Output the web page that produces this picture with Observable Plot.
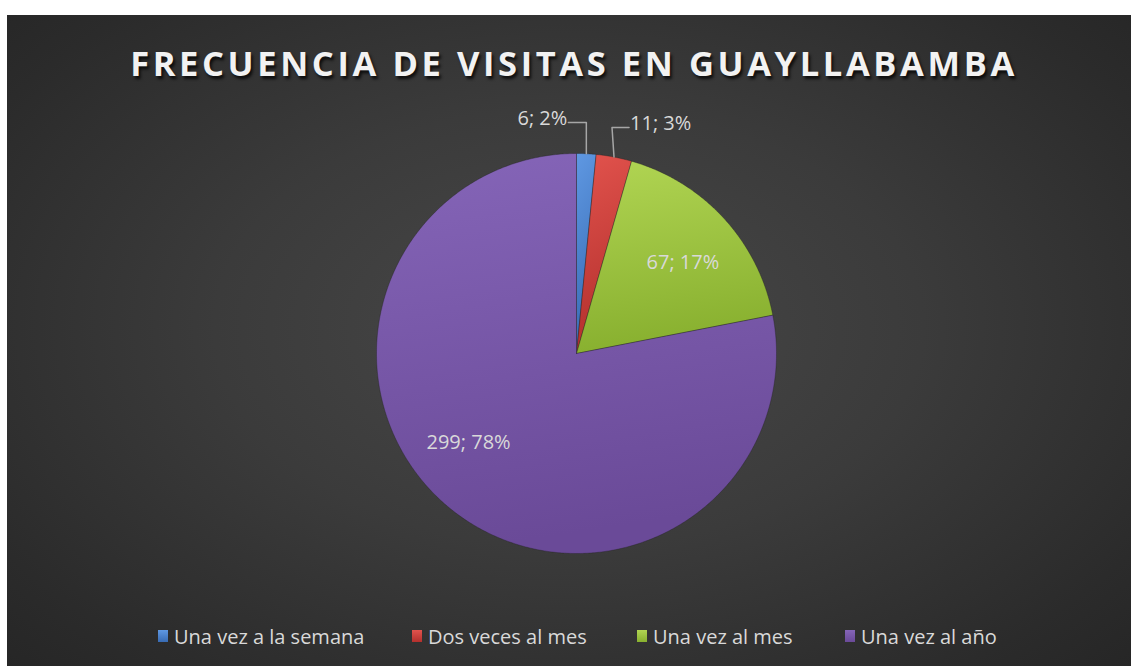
<!DOCTYPE html>
<html>
<head>
<meta charset="utf-8">
<script src="https://cdn.jsdelivr.net/npm/d3@7"></script>
<script src="https://cdn.jsdelivr.net/npm/@observablehq/plot@0.6"></script>
<style>
  html, body { margin: 0; padding: 0; background: #ffffff; width: 1131px; height: 666px; overflow: hidden; }
  #panel {
    position: absolute; left: 7px; top: 15px; width: 1124px; height: 651px;
    background: radial-gradient(ellipse 70% 75% at 50% 48%, #484848 0%, #3b3b3b 45%, #2b2b2b 85%, #262626 100%);
  }
  #title {
    position: absolute; left: 7px; top: 39px; width: 1134px; text-align: center;
    font-family: "Open Sans", sans-serif; font-weight: 700; font-size: 34.5px; letter-spacing: 3.6px;
    color: #f2f2f2; text-shadow: 2px 3px 3px rgba(0,0,0,0.75);
    line-height: 48px;
  }
  #chart { position: absolute; left: 0; top: 0; }
  #legend {
    position: absolute; left: 0; top: 621px; width: 1131px; height: 30px;
    font-family: "Open Sans", sans-serif; font-size: 20px; color: #d9d9d9;
  }
  .item { position: absolute; top: 0; display: flex; align-items: center; height: 30px; white-space: nowrap; }
  .sw { width: 10px; height: 12px; margin-right: 6px; }
</style>
</head>
<body>
<div id="panel"></div>
<div id="title">FRECUENCIA DE VISITAS EN GUAYLLABAMBA</div>
<div id="chart"></div>
<div id="legend"></div>
<script>
const categories = ["Una vez a la semana", "Dos veces al mes", "Una vez al mes", "Una vez al año"];
const values = [6, 11, 67, 299];
const percents = ["2%", "3%", "17%", "78%"];
const colorsTop = ["#5f98e2", "#e2534d", "#b1d553", "#8565b8"];
const colorsBottom = ["#386bb3", "#b3302d", "#88b02f", "#6a4a98"];

const pie = d3.pie().sort(null).value(d => d)(values);
const slices = pie.map((p, i) => {
  const pts = [{x: 0, y: 0}];
  const n = Math.max(4, Math.ceil((p.endAngle - p.startAngle) / (Math.PI / 360)));
  for (let k = 0; k <= n; k++) {
    const a = p.startAngle + (p.endAngle - p.startAngle) * k / n;
    pts.push({x: Math.sin(a), y: Math.cos(a)});
  }
  pts.push({x: 0, y: 0});
  return pts;
});

// label placement (computed from slice angles)
const labels = [];
const leaders = [];
pie.forEach((p, i) => {
  const mid = (p.startAngle + p.endAngle) / 2;
  const text = `${values[i]}; ${percents[i]}`;
  if (values[i] / d3.sum(values) < 0.05) {
    const x0 = Math.sin(mid), y0 = Math.cos(mid);
    const yE = i === 0 ? 1.155 : 1.13;
    const side = i === 0 ? -1 : 1;
    const x2 = x0 + side * (i === 0 ? 0.09 : 0.075);
    leaders.push([{x: x0, y: y0}, {x: x0 + (i === 0 ? 0 : -0.01), y: yE}, {x: x2, y: yE}]);
    labels.push({x: x2 + side * 0.005, y: yE + 0.02, text, anchor: side < 0 ? "end" : "start"});
  } else {
    const off = i === 3 ? 0.21 : 0.035;
    const r = i === 3 ? 0.715 : 0.70;
    const a = mid + off;
    labels.push({x: r * Math.sin(a) + (i === 3 ? 0.02 : 0), y: r * Math.cos(a), text, anchor: "middle"});
  }
});

const marks = [];
slices.forEach((pts, i) => {
  marks.push(Plot.line(pts, {x: "x", y: "y", fill: `url(#grad${i})`, stroke: "rgba(30,30,30,0.45)", strokeWidth: 0.8, curve: "linear"}));
});
leaders.forEach(l => marks.push(Plot.line(l, {x: "x", y: "y", stroke: "#a6a6a6", strokeWidth: 1.5})));
const textOpts = {x: "x", y: "y", text: "text", fill: "#d9d9d9", fontSize: 20, fontFamily: "Open Sans"};
marks.push(Plot.text(labels.filter(d => d.anchor === "end"), {...textOpts, textAnchor: "end"}));
marks.push(Plot.text(labels.filter(d => d.anchor === "start"), {...textOpts, textAnchor: "start"}));
marks.push(Plot.text(labels.filter(d => d.anchor === "middle"), {...textOpts, textAnchor: "middle"}));

const chart = Plot.plot({
  width: 1131,
  height: 666,
  margin: 0,
  style: {background: "transparent", overflow: "visible"},
  x: {domain: [-1, 1], range: [376, 776], axis: null},
  y: {domain: [-1, 1], range: [553, 153], axis: null},
  marks
});

const svg = d3.select(chart);
const defs = svg.insert("defs", ":first-child");
colorsTop.forEach((c, i) => {
  const g = defs.append("linearGradient").attr("id", `grad${i}`).attr("x1", 0).attr("y1", 0).attr("x2", 0.15).attr("y2", 1);
  g.append("stop").attr("offset", "0%").attr("stop-color", c);
  g.append("stop").attr("offset", "100%").attr("stop-color", colorsBottom[i]);
});
document.getElementById("chart").appendChild(chart);

// legend
const legendX = [158, 412, 637, 845];
const legend = document.getElementById("legend");
categories.forEach((c, i) => {
  const item = document.createElement("div");
  item.className = "item";
  item.style.left = legendX[i] + "px";
  const sw = document.createElement("div");
  sw.className = "sw";
  sw.style.background = `linear-gradient(${colorsTop[i]}, ${colorsBottom[i]})`;
  const t = document.createElement("span");
  t.textContent = c;
  item.appendChild(sw);
  item.appendChild(t);
  legend.appendChild(item);
});
</script>
</body>
</html>
